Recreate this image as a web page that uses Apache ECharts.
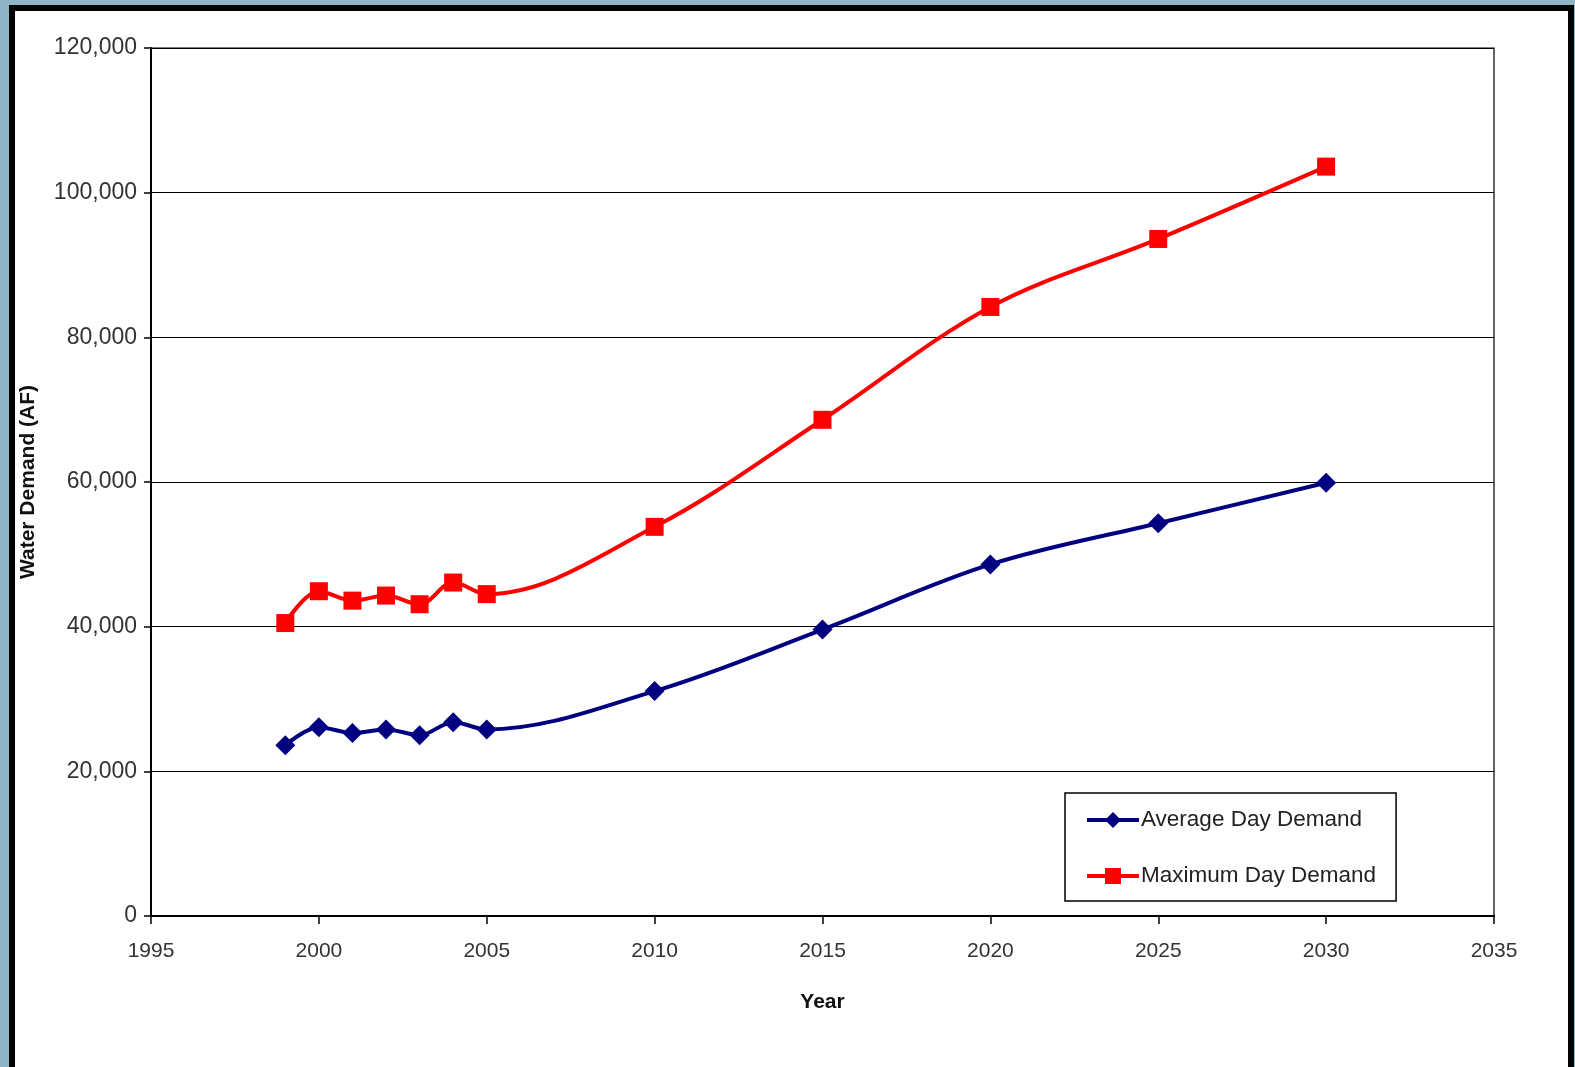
<!DOCTYPE html>
<html>
<head>
<meta charset="utf-8">
<script src="https://cdn.jsdelivr.net/npm/echarts@6/dist/echarts.min.js"></script>
<style>
  html, body { margin: 0; padding: 0; width: 1575px; height: 1067px; overflow: hidden; background: #8fb5c6; }
  #frame { position: absolute; left: 9px; top: 5px; width: 1565px; height: 1062px; background: #000; }
  #chart { position: absolute; left: 6px; top: 6px; width: 1553px; height: 1056px; background: #fff; }
</style>
</head>
<body>
<div id="frame"><div id="chart"></div></div>
<script>
// years and demand values (acre-feet)
const years = [1999, 2000, 2001, 2002, 2003, 2004, 2005, 2010, 2015, 2020, 2025, 2030];
const averageDay = [23600, 26100, 25300, 25800, 25000, 26800, 25800, 31100, 39600, 48600, 54300, 59900];
const maximumDay = [40500, 44900, 43600, 44300, 43100, 46100, 44500, 53800, 68600, 84200, 93600, 103600];
const seriesNames = ['Average Day Demand', 'Maximum Day Demand'];

const pairs = (vals) => years.map((y, i) => [y, vals[i]]);

const chart = echarts.init(document.getElementById('chart'), null, { renderer: 'canvas' });

const font = 'Liberation Sans, Arial, sans-serif';

chart.setOption({
  animation: false,
  textStyle: { fontFamily: font },
  grid: {
    left: 136, right: 74, top: 37, bottom: 151,
    outerBoundsMode: 'none',
    containLabel: false,
    show: true, borderColor: '#000', borderWidth: 1.2
  },
  legend: {
    orient: 'vertical',
    left: 1050, top: 782,
    padding: [14, 20, 12, 20],
    itemGap: 30,
    itemWidth: 52, itemHeight: 20,
    borderColor: '#000', borderWidth: 1.5,
    lineStyle: { width: 4 },
    textStyle: { fontSize: 22.5, lineHeight: 26, color: '#222', fontFamily: font, padding: [0, 0, 0, -3] },
    data: seriesNames
  },
  xAxis: {
    type: 'value',
    min: 1995, max: 2035, interval: 5,
    name: 'Year',
    nameLocation: 'middle',
    nameGap: 76,
    nameTextStyle: { fontSize: 21, fontWeight: 'bold', color: '#111' },
    axisLine: { show: true, lineStyle: { color: '#000', width: 2 } },
    axisTick: { show: true, length: 8, lineStyle: { color: '#000', width: 1.5 } },
    axisLabel: { fontSize: 21, color: '#333', margin: 25, formatter: (v) => String(v) },
    splitLine: { show: false }
  },
  yAxis: {
    type: 'value',
    min: 0, max: 120000, interval: 20000,
    name: 'Water Demand (AF)',
    nameLocation: 'middle',
    nameGap: 112,
    nameTextStyle: { fontSize: 21, fontWeight: 'bold', color: '#111' },
    axisLine: { show: true, lineStyle: { color: '#000', width: 2 } },
    axisTick: { show: true, length: 7, lineStyle: { color: '#000', width: 1.5 } },
    axisLabel: {
      fontSize: 23, color: '#333', margin: 14,
      formatter: (v) => v.toLocaleString('en-US')
    },
    splitLine: { show: true, lineStyle: { color: '#000', width: 1.2 } }
  },
  series: [
    {
      name: seriesNames[0],
      type: 'line',
      data: pairs(averageDay),
      smooth: 0.35,
      symbol: 'diamond',
      symbolSize: 20,
      lineStyle: { color: '#000080', width: 4 },
      itemStyle: { color: '#000080' }
    },
    {
      name: seriesNames[1],
      type: 'line',
      data: pairs(maximumDay),
      smooth: 0.35,
      symbol: 'rect',
      symbolSize: 18,
      lineStyle: { color: '#ff0000', width: 4 },
      itemStyle: { color: '#ff0000' }
    }
  ]
});
</script>
</body>
</html>
